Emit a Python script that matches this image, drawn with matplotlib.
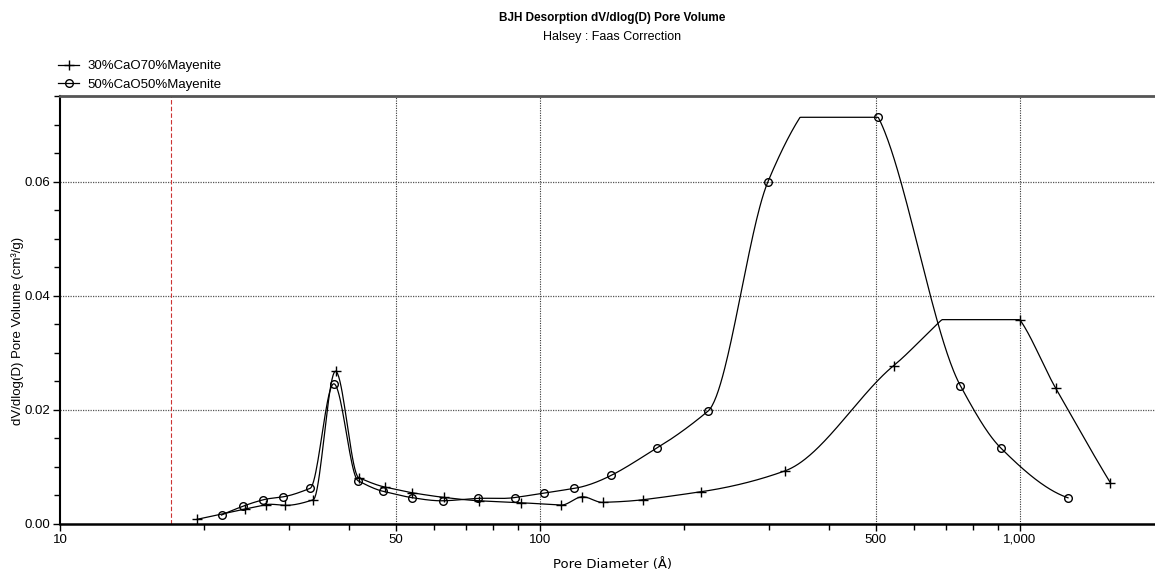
import numpy as np
import matplotlib
matplotlib.use("Agg")
import matplotlib.pyplot as plt
import matplotlib.ticker as mticker
from matplotlib.lines import Line2D

# BJH desorption data
d_30 = [19.3, 24.3, 26.8, 29.4, 33.7, 37.5, 41.9, 47.6, 54.2, 63.1, 74.6, 91.5,
        110.6, 122.6, 135.1, 164.1, 216.0, 323.9, 545.8, 999.0, 1186.5, 1542.0]
v_30 = [0.00082, 0.00262, 0.00337, 0.00327, 0.00424, 0.02678, 0.00812, 0.00646,
        0.00547, 0.00466, 0.00407, 0.00372, 0.00332, 0.00477, 0.00379, 0.00426,
        0.00564, 0.00931, 0.02777, 0.03581, 0.02381, 0.00725]

d_50 = [21.7, 24.1, 26.5, 29.1, 33.2, 37.2, 41.8, 47.2, 54.0, 62.9, 74.4, 88.5,
        101.9, 117.8, 140.7, 175.7, 223.9, 298.4, 506.6, 751.3, 911.7, 1259.0]
v_50 = [0.00157, 0.00314, 0.00424, 0.00475, 0.00625, 0.02458, 0.00756, 0.00571,
        0.00463, 0.00407, 0.00449, 0.00463, 0.00541, 0.00624, 0.00852, 0.01338,
        0.01979, 0.05997, 0.07127, 0.02423, 0.01333, 0.00459]

labels = ["30%CaO70%Mayenite", "50%CaO50%Mayenite"]
x_ticks = [10, 50, 100, 500, 1000]
x_ticklabels = ["10", "50", "100", "500", "1,000"]
y_ticks = [0.0, 0.02, 0.04, 0.06]
cutoff = 17

plt.rcParams['font.family'] = ['Liberation Sans Narrow', 'Liberation Sans', 'DejaVu Sans']


def smooth(d, v, n=800):
    # Akima curve in log(D), clipped to the data range like the instrument plot
    x = np.log10(d)
    y = np.asarray(v, dtype=float)
    h = np.diff(x)
    s = np.diff(y) / h
    s = np.concatenate([[3 * s[0] - 2 * s[1], 2 * s[0] - s[1]], s,
                        [2 * s[-1] - s[-2], 3 * s[-1] - 2 * s[-2]]])
    w1 = np.abs(s[3:] - s[2:-1])
    w2 = np.abs(s[1:-2] - s[:-3])
    tot = w1 + w2
    m = np.where(tot > 1e-12,
                 (w1 * s[1:-2] + w2 * s[2:-1]) / np.where(tot > 1e-12, tot, 1),
                 0.5 * (s[1:-2] + s[2:-1]))
    xs = np.linspace(x[0], x[-1], n)
    k = np.clip(np.searchsorted(x, xs) - 1, 0, len(x) - 2)
    t = (xs - x[k]) / h[k]
    h00 = 2 * t ** 3 - 3 * t ** 2 + 1
    h10 = t ** 3 - 2 * t ** 2 + t
    h01 = -2 * t ** 3 + 3 * t ** 2
    h11 = t ** 3 - t ** 2
    ys = h00 * y[k] + h10 * h[k] * m[k] + h01 * y[k + 1] + h11 * h[k] * m[k + 1]
    ys = np.clip(ys, 0, y.max())
    return 10 ** xs, ys


fig = plt.figure(figsize=(11.55, 5.71), dpi=100)
W, H = 1155, 571
ax = fig.add_axes([60 / W, 47 / H, (1164.5 - 60) / W, 428 / H])

for d, v, mk, ms in [(d_30, v_30, '+', 7), (d_50, v_50, 'o', 5.5)]:
    xs, ys = smooth(d, v)
    ax.plot(xs, ys, color='black', lw=0.9, zorder=3)
    ax.plot(d, v, linestyle='none', marker=mk, ms=ms, mfc='none', mec='black',
            mew=1.0, zorder=4)

ax.set_xscale('log')
ax.set_xlim(10, 2000)
ax.set_ylim(0, 0.075)

ax.axvline(cutoff, color='#cc3333', lw=0.8, ls=(0, (4, 2)), zorder=2)

ax.xaxis.set_major_locator(mticker.FixedLocator(x_ticks))
ax.xaxis.set_major_formatter(mticker.FixedFormatter(x_ticklabels))
ax.xaxis.set_minor_locator(mticker.LogLocator(base=10, subs=np.arange(2, 10)))
ax.xaxis.set_minor_formatter(mticker.NullFormatter())
ax.set_yticks(y_ticks)
ax.yaxis.set_major_formatter(mticker.FormatStrFormatter('%.2f'))
ax.yaxis.set_minor_locator(mticker.MultipleLocator(0.005))

ax.tick_params(axis='both', which='major', direction='out', length=5, width=1,
               labelsize=9.5, colors='black', pad=2)
ax.tick_params(axis='both', which='minor', direction='out', length=4, width=1)

for gx in x_ticks[1:]:
    ax.axvline(gx, color='#333333', lw=0.8, ls=(0, (1, 1.2)), zorder=1)
for gy in y_ticks[1:]:
    ax.axhline(gy, color='#555555', lw=0.9, ls=(0, (1, 1)), zorder=1)

ax.spines['left'].set_linewidth(1.5)
ax.spines['bottom'].set_linewidth(1.8)
ax.spines['top'].set_linewidth(2)
ax.spines['top'].set_color('#555555')
ax.spines['right'].set_visible(False)

ax.set_xlabel("Pore Diameter (Å)", fontsize=9.5, family=['Liberation Sans Narrow', 'DejaVu Sans'])
ax.xaxis.set_label_coords(0.5, -0.08)
ax.set_ylabel("dV/dlog(D) Pore Volume (cm³/g)", fontsize=9.5, family=['Liberation Sans', 'DejaVu Sans'])
ax.yaxis.set_label_coords(-0.033, 0.45)

fig.text(612 / W, 1 - 18 / H, "BJH Desorption dV/dlog(D) Pore Volume", ha='center', va='center',
         fontsize=8.5, fontweight='bold')
fig.text(612 / W, 1 - 37 / H, "Halsey : Faas Correction", ha='center', va='center', fontsize=9)

handles = [Line2D([], [], color='black', lw=0.9, marker='+', ms=7, mew=1.0),
           Line2D([], [], color='black', lw=0.9, marker='o', ms=5.5, mfc='none', mew=1.0)]
fig.legend(handles, labels, loc='upper left', bbox_to_anchor=(58 / W, 1 - 60 / H),
           frameon=False, fontsize=9.5, handlelength=1.6, handletextpad=0.6,
           labelspacing=0.5, borderpad=0, borderaxespad=0)

fig.savefig("out.png", dpi=100)
